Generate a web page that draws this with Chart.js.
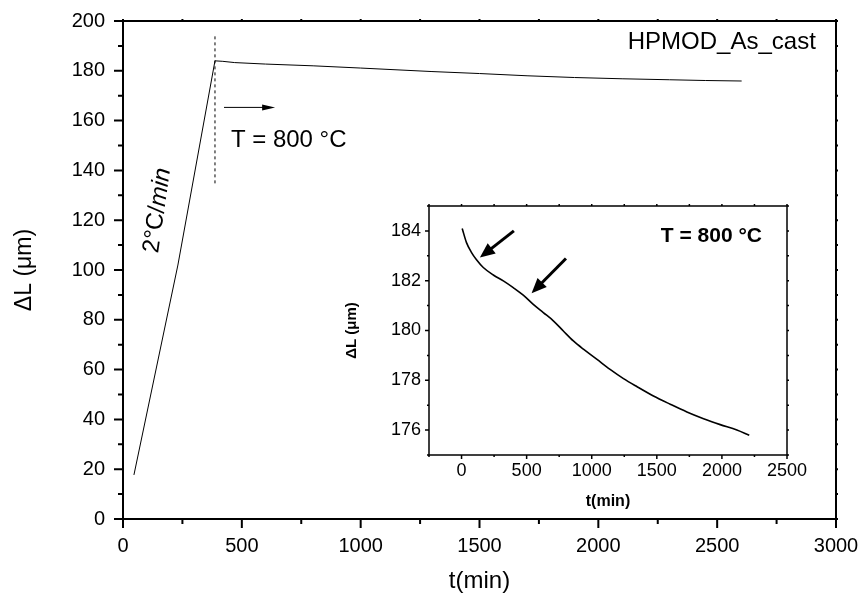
<!DOCTYPE html>
<html><head><meta charset="utf-8">
<script src="https://cdn.jsdelivr.net/npm/chart.js@4.4.1/dist/chart.umd.min.js"></script>
<style>
html,body{margin:0;padding:0;background:#fff;}
#wrap{position:relative;width:861px;height:597px;overflow:hidden;}
#main{position:absolute;left:0;top:0;}
#inset{position:absolute;left:330px;top:190px;}
</style></head><body>
<div id="wrap"><canvas id="main" width="861" height="597"></canvas><canvas id="inset" width="480" height="325"></canvas></div>
<script>
// ---------- data ----------
const mainT = [46, 231, 387, 420, 470, 600, 800, 1000, 1300, 1500, 1700, 1900, 2100, 2300, 2450, 2603];
const mainL = [17.7, 102, 184.0, 183.8, 183.3, 182.7, 182.0, 181.1, 179.7, 178.9, 178.0, 177.3, 176.8, 176.4, 176.1, 175.9];
const markerT = [387, 387];
const markerL = [134.8, 194];
const mainXTicks = [0, 500, 1000, 1500, 2000, 2500, 3000];
const mainYTicks = [0, 20, 40, 60, 80, 100, 120, 140, 160, 180, 200];

const insetT = [5, 38, 77, 115, 167, 244, 321, 397, 474, 551, 628, 705, 782, 859, 936, 1038, 1141, 1244, 1346, 1474, 1603, 1731, 1859, 1987, 2115, 2210];
const insetL = [184.1, 183.53, 183.13, 182.84, 182.53, 182.23, 181.99, 181.72, 181.42, 181.05, 180.72, 180.39, 179.98, 179.58, 179.25, 178.85, 178.44, 178.07, 177.75, 177.37, 177.04, 176.73, 176.46, 176.22, 176.0, 175.79];
const insetXTicks = [0, 500, 1000, 1500, 2000, 2500];
const insetYTicks = [176, 178, 180, 182, 184];

// annotation anchors in data units
const mainArrow = [[425, 165.3], [640, 165.3]];
const insetArrows = [[[402, 184.0], [141, 182.93]], [[802, 182.89], [538, 181.5]]];

const FONT = "'Liberation Sans', Arial, sans-serif";

function pts(xs, ys) { return xs.map((v, i) => ({x: v, y: ys[i]})); }

function fixTicks(values) {
  return function (scale) { scale.ticks = values.map(v => ({value: v})); };
}
function noPad(s) { s.paddingLeft = 0; s.paddingRight = 0; s.paddingTop = 0; s.paddingBottom = 0; }
const plain = v => String(v);

function arrow(ctx, x1, y1, x2, y2, headLen, headW, lw) {
  const ang = Math.atan2(y2 - y1, x2 - x1);
  const c = Math.cos(ang), s = Math.sin(ang);
  const bx = x2 - headLen * c, by = y2 - headLen * s;
  ctx.lineWidth = lw;
  ctx.beginPath(); ctx.moveTo(x1, y1); ctx.lineTo(bx + c, by + s); ctx.stroke();
  ctx.beginPath(); ctx.moveTo(x2, y2);
  ctx.lineTo(bx + headW / 2 * s, by - headW / 2 * c);
  ctx.lineTo(bx - headW / 2 * s, by + headW / 2 * c);
  ctx.closePath(); ctx.fill();
}

function frameTicks(chart, o) {
  const {ctx, chartArea: a} = chart;
  const x = chart.scales.x, y = chart.scales.y;
  ctx.save();
  ctx.strokeStyle = '#000';
  ctx.lineWidth = o.frameW;
  ctx.strokeRect(a.left, a.top, a.right - a.left, a.bottom - a.top);
  ctx.lineWidth = o.tickW;
  ctx.beginPath();
  const eps = 1e-6;
  for (let v = Math.ceil(x.min / o.xMinor - eps) * o.xMinor; v <= x.max + eps; v += o.xMinor) {
    const p = x.getPixelForValue(v);
    const major = Math.abs(v / o.xMajor - Math.round(v / o.xMajor)) < eps;
    ctx.moveTo(p, a.bottom); ctx.lineTo(p, a.bottom + (major ? o.major : o.minor));
    ctx.moveTo(p, a.top); ctx.lineTo(p, a.top - o.mirror);
  }
  for (let v = Math.ceil(y.min / o.yMinor - eps) * o.yMinor; v <= y.max + eps; v += o.yMinor) {
    const p = y.getPixelForValue(v);
    const major = Math.abs(v / o.yMajor - Math.round(v / o.yMajor)) < eps;
    ctx.moveTo(a.left, p); ctx.lineTo(a.left - (major ? o.major : o.minor), p);
    ctx.moveTo(a.right, p); ctx.lineTo(a.right + o.mirror, p);
  }
  ctx.stroke();
  ctx.restore();
}

const mainDeco = {
  id: 'mainDeco',
  afterDraw(chart) {
    frameTicks(chart, {frameW: 2, tickW: 2, major: 9, minor: 5, mirror: 2, xMinor: 250, xMajor: 500, yMinor: 10, yMajor: 20});
    const {ctx} = chart; const x = chart.scales.x, y = chart.scales.y;
    ctx.save();
    ctx.fillStyle = '#000'; ctx.strokeStyle = '#000';
    arrow(ctx, x.getPixelForValue(mainArrow[0][0]), y.getPixelForValue(mainArrow[0][1]),
      x.getPixelForValue(mainArrow[1][0]), y.getPixelForValue(mainArrow[1][1]), 13, 6, 1);
    ctx.font = '24px ' + FONT;
    ctx.textBaseline = 'middle';
    ctx.textAlign = 'right';
    ctx.fillText('HPMOD_As_cast', x.getPixelForValue(2915), y.getPixelForValue(191.6));
    ctx.textAlign = 'left';
    ctx.fillText('T = 800 °C', x.getPixelForValue(454), y.getPixelForValue(152.2));
    ctx.translate(x.getPixelForValue(145), y.getPixelForValue(123.9));
    ctx.rotate(-82 * Math.PI / 180);
    const p1 = '2°C/', p2 = 'min';
    ctx.font = '24px ' + FONT;
    const w1 = ctx.measureText(p1).width;
    ctx.font = 'italic 24px ' + FONT;
    const w2 = ctx.measureText(p2).width;
    const start = -(w1 + w2) / 2;
    ctx.font = '24px ' + FONT;
    ctx.fillText(p1, start, 0);
    ctx.font = 'italic 24px ' + FONT;
    ctx.fillText(p2, start + w1, 0);
    ctx.restore();
  }
};

const insetDeco = {
  id: 'insetDeco',
  afterDraw(chart) {
    frameTicks(chart, {frameW: 1.5, tickW: 1.5, major: 4, minor: 2, mirror: 2, xMinor: 250, xMajor: 500, yMinor: 1, yMajor: 2});
    const {ctx} = chart; const x = chart.scales.x, y = chart.scales.y;
    ctx.save();
    ctx.fillStyle = '#000'; ctx.strokeStyle = '#000';
    insetArrows.forEach(([s, e]) => arrow(ctx, x.getPixelForValue(s[0]), y.getPixelForValue(s[1]),
      x.getPixelForValue(e[0]), y.getPixelForValue(e[1]), 15, 13, 3));
    ctx.font = 'bold 21px ' + FONT;
    ctx.textBaseline = 'middle';
    ctx.textAlign = 'right';
    ctx.fillText('T = 800 °C', x.getPixelForValue(2308), y.getPixelForValue(183.8));
    ctx.restore();
  }
};

Chart.defaults.font.family = FONT;
Chart.defaults.color = '#000';

new Chart(document.getElementById('main'), {
  type: 'scatter',
  data: {
    datasets: [
      {data: pts(mainT, mainL), showLine: true, borderColor: '#000', borderWidth: 1, pointRadius: 0, tension: 0},
      {data: pts(markerT, markerL), showLine: true, borderColor: '#000', borderWidth: 1, borderDash: [3, 3], pointRadius: 0}
    ]
  },
  options: {
    responsive: false, animation: false, devicePixelRatio: 1,
    layout: {padding: {top: 21, right: 25, left: 0, bottom: 0}},
    plugins: {legend: {display: false}, tooltip: {enabled: false}},
    scales: {
      x: {
        type: 'linear', min: 0, max: 3000,
        afterBuildTicks: fixTicks(mainXTicks),
        afterFit(s) { s.height = 78; noPad(s); },
        grid: {display: false, drawTicks: false}, border: {display: false},
        ticks: {font: {size: 20}, padding: 15, color: '#000', maxRotation: 0, callback: plain},
        title: {display: true, text: 't(min)', font: {size: 24}, color: '#000', padding: {top: 0, bottom: 1}}
      },
      y: {
        type: 'linear', min: 0, max: 200,
        afterBuildTicks: fixTicks(mainYTicks),
        afterFit(s) { s.width = 123; noPad(s); },
        grid: {display: false, drawTicks: false}, border: {display: false},
        ticks: {font: {size: 20}, padding: 18, color: '#000', callback: plain},
        title: {display: true, text: 'ΔL (μm)', font: {size: 23}, color: '#000', padding: {top: 11, bottom: 0}}
      }
    }
  },
  plugins: [mainDeco]
});

new Chart(document.getElementById('inset'), {
  type: 'scatter',
  data: {
    datasets: [
      {data: pts(insetT, insetL), showLine: true, borderColor: '#000', borderWidth: 1.6, pointRadius: 0, cubicInterpolationMode: 'monotone'}
    ]
  },
  options: {
    responsive: false, animation: false, devicePixelRatio: 1,
    layout: {padding: {top: 16, right: 23, left: 0, bottom: 0}},
    plugins: {legend: {display: false}, tooltip: {enabled: false}},
    scales: {
      x: {
        type: 'linear', min: -250, max: 2500,
        afterBuildTicks: fixTicks(insetXTicks),
        afterFit(s) { s.height = 60; noPad(s); },
        grid: {display: false, drawTicks: false}, border: {display: false},
        ticks: {font: {size: 18}, padding: 5, color: '#000', maxRotation: 0, callback: plain},
        title: {display: true, text: 't(min)', font: {size: 16, weight: 'bold'}, color: '#000', padding: {top: 0, bottom: 4}}
      },
      y: {
        type: 'linear', min: 175, max: 185,
        afterBuildTicks: fixTicks(insetYTicks),
        afterFit(s) { s.width = 99; noPad(s); },
        grid: {display: false, drawTicks: false}, border: {display: false},
        ticks: {font: {size: 18}, padding: 8, color: '#000', callback: plain},
        title: {display: true, text: 'ΔL (μm)', font: {size: 15, weight: 'bold'}, color: '#000', padding: {top: 13, bottom: 0}}
      }
    }
  },
  plugins: [insetDeco]
});
</script>
</body></html>
